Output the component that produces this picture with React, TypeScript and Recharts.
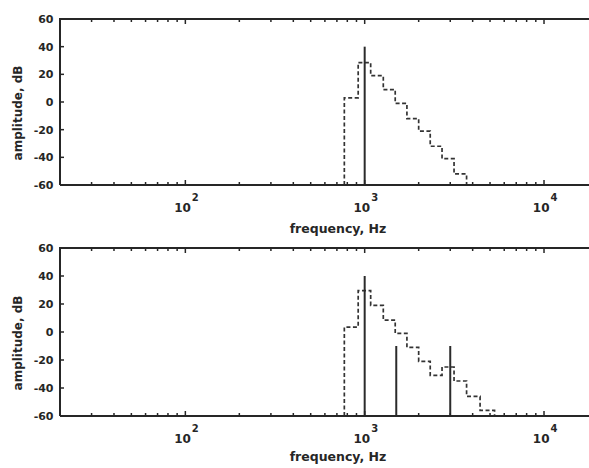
import React from 'react';
import { LineChart, Line, XAxis, YAxis } from 'recharts';

const FONT = '"DejaVu Sans", "Liberation Sans", sans-serif';
const INK = '#262626';

// log frequency axis
const X_DOMAIN = [20, 20000];
const decadeTicks = [100, 1000, 10000];
const decadeExponents = ['2', '3', '4'];
const minorTicks = [
  30, 40, 50, 60, 70, 80, 90,
  200, 300, 400, 500, 600, 700, 800, 900,
  2000, 3000, 4000, 5000, 6000, 7000, 8000, 9000,
];
const yTicks = [-60, -40, -20, 0, 20, 40, 60];

// critical band edges (Hz) used by the dashed threshold
const bandEdges = [770, 920, 1080, 1270, 1480, 1720, 2000, 2320, 2700, 3150, 3700, 4400, 5300];
// threshold level (dB) of each band, starting with the 770-920 Hz band
const maskTop = [3, 28.5, 19, 9, -1, -12, -21, -32, -41, -52];
const maskBottom = [3.5, 29.5, 19, 8.5, -1, -11, -21, -31, -25, -35, -46, -56];

// pure tones
const toneFreqTop = [1000];
const toneLevelTop = [40];
const toneFreqBottom = [1000, 1500, 3000];
const toneLevelBottom = [40, -10, -10];

const FLOOR = -60;
const CEIL = 60;

// plot box geometry (px)
const PLOT_LEFT = 60;
const PLOT_W = 538;
const PANEL1_TOP = 0;
const PANEL2_TOP = 229;
const MARGIN_TOP = 19;

const stepData = (levels: number[]) => [
  { f: bandEdges[0], v: FLOOR },
  ...levels.map((v, i) => ({ f: bandEdges[i], v })),
  { f: bandEdges[levels.length], v: FLOOR },
];

const allXTicks = [...minorTicks, ...decadeTicks].sort((a, b) => a - b);

// same log mapping the x axis uses, for the top-edge ticks of the frame
const logX = (f: number) =>
  PLOT_LEFT +
  (PLOT_W * (Math.log10(f) - Math.log10(X_DOMAIN[0]))) / (Math.log10(X_DOMAIN[1]) - Math.log10(X_DOMAIN[0]));

const FreqTick = (props: any) => {
  const { x, y, payload } = props;
  const i = decadeTicks.indexOf(payload.value);
  const major = i >= 0;
  return (
    <g>
      <line x1={x} x2={x} y1={y} y2={y - (major ? 5 : 3)} stroke={INK} strokeWidth={1.5} />
      {major && (
        <g fontFamily={FONT} fontWeight="bold" fill={INK}>
          <text x={x + 5.5} y={y + 26.5} textAnchor="end" fontSize={12}>10</text>
          <text x={x + 6.5} y={y + 16} fontSize={10}>{decadeExponents[i]}</text>
        </g>
      )}
    </g>
  );
};

const LeftTick = (props: any) => {
  const { x, y, payload } = props;
  return (
    <g>
      <line x1={x} x2={x + 4} y1={y} y2={y} stroke={INK} strokeWidth={1.5} />
      <text x={x - 6.5} y={y + 4} textAnchor="end" fontSize={11} fontFamily={FONT} fontWeight="bold" fill={INK}>
        {payload.value}
      </text>
    </g>
  );
};

interface PanelProps {
  top: number;
  height: number;
  xAxisHeight: number;
  mask: number[];
  toneFreq: number[];
  toneLevel: number[];
}

const Panel = ({ top, height, xAxisHeight, mask, toneFreq, toneLevel }: PanelProps) => (
  <div style={{ position: 'absolute', left: 0, top }}>
    <LineChart width={600} height={height} margin={{ top: MARGIN_TOP, right: 2, bottom: 0, left: 0 }}>
      <XAxis
        dataKey="f"
        type="number"
        scale="log"
        domain={X_DOMAIN}
        allowDataOverflow
        ticks={allXTicks}
        interval={0}
        tickSize={0}
        tickMargin={0}
        tickLine={false}
        tick={(p: any) => <FreqTick {...p} />}
        height={xAxisHeight}
        axisLine={{ stroke: INK, strokeWidth: 2 }}
      />
      <YAxis
        type="number"
        domain={[FLOOR, CEIL]}
        allowDataOverflow
        ticks={yTicks}
        interval={0}
        width={PLOT_LEFT}
        tickSize={0}
        tickMargin={0}
        tickLine={false}
        tick={(p: any) => <LeftTick {...p} />}
        axisLine={{ stroke: INK, strokeWidth: 2 }}
      />
      <Line
        data={stepData(mask)}
        dataKey="v"
        type="stepAfter"
        stroke="#333"
        strokeWidth={1.7}
        strokeDasharray="4 2.5"
        dot={false}
        activeDot={false}
        isAnimationActive={false}
      />
      {toneFreq.map((f, i) => (
        <Line
          key={`tone-${f}`}
          data={[{ f, v: FLOOR }, { f, v: toneLevel[i] }]}
          dataKey="v"
          type="linear"
          stroke="#2b2b2b"
          strokeWidth={2}
          dot={false}
          activeDot={false}
          isAnimationActive={false}
        />
      ))}
    </LineChart>
  </div>
);

const titleStyle = { fontFamily: FONT, fontWeight: 'bold' as const, fill: INK };

// top edge of the frame with its inward ticks
const TopEdge = ({ y }: { y: number }) => (
  <g>
    <line x1={PLOT_LEFT - 1} x2={PLOT_LEFT + PLOT_W} y1={y} y2={y} stroke={INK} strokeWidth={2} />
    {allXTicks.map((t) => (
      <line
        key={t}
        x1={logX(t)}
        x2={logX(t)}
        y1={y}
        y2={y + (decadeTicks.includes(t) ? 5 : 3)}
        stroke={INK}
        strokeWidth={1.5}
      />
    ))}
  </g>
);

export default function App() {
  return (
    <div style={{ position: 'fixed', left: 0, top: 0, width: 589, height: 468, overflow: 'hidden', background: '#fff' }}>
      <Panel top={PANEL1_TOP} height={235} xAxisHeight={50}
        mask={maskTop} toneFreq={toneFreqTop} toneLevel={toneLevelTop} />
      <Panel top={PANEL2_TOP} height={239} xAxisHeight={52}
        mask={maskBottom} toneFreq={toneFreqBottom} toneLevel={toneLevelBottom} />
      <svg width={589} height={468} style={{ position: 'absolute', left: 0, top: 0, pointerEvents: 'none' }}>
        <TopEdge y={PANEL1_TOP + MARGIN_TOP} />
        <TopEdge y={PANEL2_TOP + MARGIN_TOP} />
        <text x={338} y={232.5} textAnchor="middle" fontSize={12.5} style={titleStyle}>frequency, Hz</text>
        <text x={338} y={461} textAnchor="middle" fontSize={12.5} style={titleStyle}>frequency, Hz</text>
        <text x={22} y={113} transform="rotate(-90, 22, 113)" textAnchor="middle" fontSize={12} style={titleStyle}>amplitude, dB</text>
        <text x={22} y={343} transform="rotate(-90, 22, 343)" textAnchor="middle" fontSize={12} style={titleStyle}>amplitude, dB</text>
      </svg>
    </div>
  );
}
